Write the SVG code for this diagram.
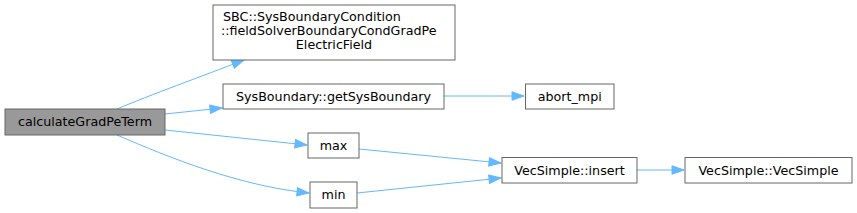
<svg xmlns="http://www.w3.org/2000/svg" width="857" height="213" viewBox="0 0 857 213">
<style>
.n{fill:#fff;stroke:#666;stroke-width:1}
.h{fill:#999;stroke:#666;stroke-width:1}
.t{font-family:"DejaVu Sans",sans-serif;font-size:12.7px;fill:#000;text-anchor:middle}
.l{text-anchor:start}
.e{fill:none;stroke:#63b8ff;stroke-width:1;marker-end:url(#a)}
</style>
<defs>
<marker id="a" markerUnits="userSpaceOnUse" markerWidth="14" markerHeight="11" refX="13" refY="5" orient="auto">
<path d="M1,0.8 L13,5 L1,9.2 z" fill="#63b8ff" stroke="#63b8ff"/>
</marker>
</defs>
<g id="edges">
<path class="e" d="M117,109 C150,95 200,77 244,60"/>
<path class="e" d="M165,114 L222,108"/>
<path class="e" d="M165,130 L307,145"/>
<path class="e" d="M117,135 C170,158 240,186 309,193"/>
<path class="e" d="M444,96 L524,96"/>
<path class="e" d="M359,149 L501,163"/>
<path class="e" d="M357,193 L501,178"/>
<path class="e" d="M637,170 L684,170"/>
</g>
<g id="calculateGradPeTerm"><rect class="h" x="5" y="109" width="160" height="26"/><text class="t" x="85" y="126">calculateGradPeTerm</text></g>
<g id="fieldSolverBoundaryCondGradPeElectricField"><rect class="n" x="213" y="5" width="242" height="55"/>
<text class="t l" x="223" y="21">SBC::SysBoundaryCondition</text>
<text class="t l" x="221" y="35">::fieldSolverBoundaryCondGradPe</text>
<text class="t" x="334" y="49">ElectricField</text></g>
<g id="getSysBoundary"><rect class="n" x="223" y="84" width="221" height="25"/><text class="t" x="333.5" y="101">SysBoundary::getSysBoundary</text></g>
<g id="max"><rect class="n" x="308" y="133" width="51" height="25"/><text class="t" x="333.5" y="150">max</text></g>
<g id="min"><rect class="n" x="310" y="182" width="47" height="26"/><text class="t" x="333.5" y="199">min</text></g>
<g id="abort_mpi"><rect class="n" x="525.5" y="84" width="88.5" height="25"/><text class="t" x="569.75" y="101">abort_mpi</text></g>
<g id="insert"><rect class="n" x="502" y="157.5" width="135" height="25.5"/><text class="t" x="569.5" y="175">VecSimple::insert</text></g>
<g id="VecSimple"><rect class="n" x="685" y="157.5" width="167" height="25.5"/><text class="t" x="768.5" y="175">VecSimple::VecSimple</text></g>
</svg>
